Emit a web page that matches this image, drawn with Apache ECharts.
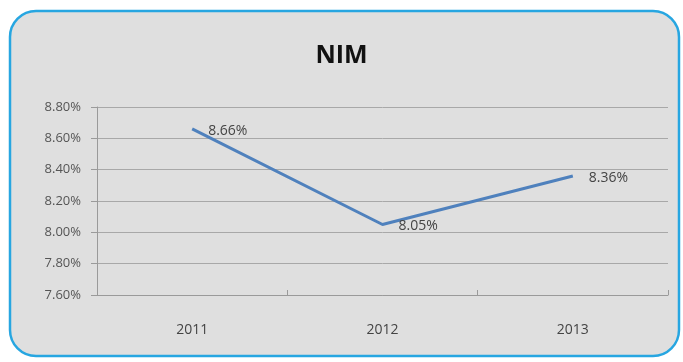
<!DOCTYPE html>
<html>
<head>
<meta charset="utf-8">
<style>
  html, body { margin: 0; padding: 0; background: #ffffff; }
  #chart { width: 683px; height: 362px; }
</style>
<script src="https://cdn.jsdelivr.net/npm/echarts@6/dist/echarts.min.js"></script>
</head>
<body>
<div id="chart"></div>
<script>
// Net interest margin by year (percent)
const years = ['2011', '2012', '2013'];
const nim = [8.66, 8.05, 8.36];
const yMin = 7.6, yMax = 8.8, yStep = 0.2;

const chart = echarts.init(document.getElementById('chart'));
const textFont = '"Open Sans", "Liberation Sans", sans-serif';

chart.setOption({
  animation: false,
  backgroundColor: '#ffffff',
  graphic: [{
    type: 'rect',
    z: -10,
    shape: { x: 10, y: 11, width: 669, height: 345, r: 26 },
    style: { fill: '#dfdfdf', stroke: '#27a6e1', lineWidth: 2.5 }
  }],
  title: {
    text: 'NIM',
    left: 'center',
    top: 38,
    textStyle: { fontFamily: textFont, fontSize: 25, fontWeight: 'bold', color: '#111111' }
  },
  grid: { left: 97, right: 15, top: 107, bottom: 67 },
  xAxis: {
    type: 'category',
    data: years,
    boundaryGap: true,
    axisLine: { lineStyle: { color: '#9a9a9a', width: 1 } },
    axisTick: { show: true, length: 5, inside: true, lineStyle: { color: '#9a9a9a' } },
    axisLabel: { margin: 28, fontFamily: textFont, fontSize: 14, color: '#444444' }
  },
  yAxis: {
    type: 'value',
    min: yMin,
    max: yMax,
    interval: yStep,
    axisLine: { show: true, lineStyle: { color: '#9a9a9a', width: 1 } },
    axisTick: { show: true, length: 6, lineStyle: { color: '#9a9a9a' } },
    splitLine: { lineStyle: { color: '#a8a8a8', width: 1 } },
    axisLabel: {
      margin: 16,
      fontFamily: textFont,
      fontSize: 13,
      color: '#555555',
      formatter: v => v.toFixed(2) + '%'
    }
  },
  series: [{
    type: 'line',
    data: nim,
    symbol: 'circle',
    symbolSize: 2,
    showSymbol: true,
    itemStyle: { color: 'rgba(79,129,189,0)', borderWidth: 0 },
    lineStyle: { color: '#4f81bd', width: 3 },
    label: {
      show: true,
      position: 'right',
      distance: 15,
      offset: [0, 2],
      fontFamily: textFont,
      fontSize: 14,
      color: '#444444',
      formatter: p => p.value.toFixed(2) + '%'
    }
  }]
});
</script>
</body>
</html>
